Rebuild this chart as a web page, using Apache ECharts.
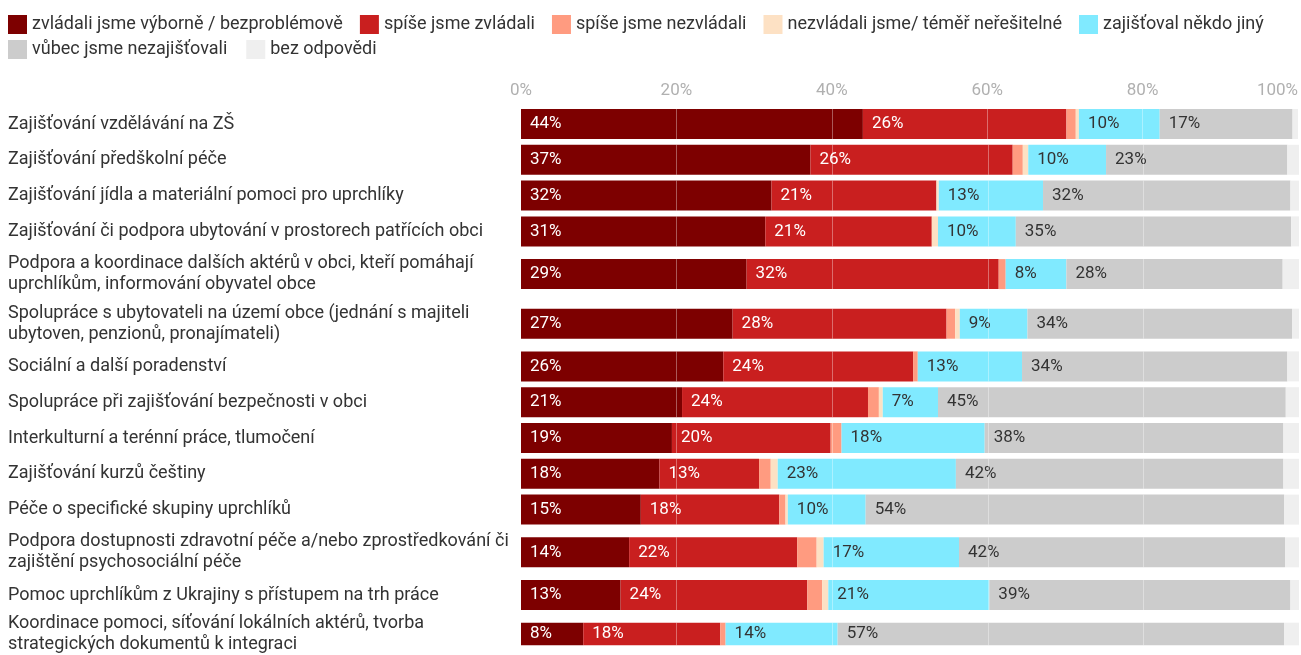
<!DOCTYPE html>
<html>
<head>
<meta charset="utf-8">
<script src="https://cdn.jsdelivr.net/npm/echarts@6/dist/echarts.min.js"></script>
<style>
  html, body { margin: 0; padding: 0; background: #fff; }
  #chart { width: 1301px; height: 655px; }
</style>
</head>
<body>
<div id="chart"></div>
<script>
// row labels (two-line labels get a taller row)
var categories = [
  'Zajišťování vzdělávání na ZŠ',
  'Zajišťování předškolní péče',
  'Zajišťování jídla a materiální pomoci pro uprchlíky',
  'Zajišťování či podpora ubytování v prostorech patřících obci',
  'Podpora a koordinace dalších aktérů v obci, kteří pomáhají\nuprchlíkům, informování obyvatel obce',
  'Spolupráce s ubytovateli na území obce (jednání s majiteli\nubytoven, penzionů, pronajímateli)',
  'Sociální a další poradenství',
  'Spolupráce při zajišťování bezpečnosti v obci',
  'Interkulturní a terénní práce, tlumočení',
  'Zajišťování kurzů češtiny',
  'Péče o specifické skupiny uprchlíků',
  'Podpora dostupnosti zdravotní péče a/nebo zprostředkování či\nzajištění psychosociální péče',
  'Pomoc uprchlíkům z Ukrajiny s přístupem na trh práce',
  'Koordinace pomoci, síťování lokálních aktérů, tvorba\nstrategických dokumentů k integraci'
];

var seriesNames = [
  'zvládali jsme výborně / bezproblémově',
  'spíše jsme zvládali',
  'spíše jsme nezvládali',
  'nezvládali jsme/ téměř neřešitelné',
  'zajišťoval někdo jiný',
  'vůbec jsme nezajišťovali',
  'bez odpovědi'
];

// values in %
var vyborne     = [44.0, 37.2, 32.2, 31.4, 29.0, 27.2, 26.0, 20.7, 19.4, 17.8, 15.4, 13.9, 12.8, 8.0];
var spiseZvl    = [26.2, 26.0, 21.2, 21.4, 32.4, 27.5, 24.4, 23.9, 20.4, 12.8, 17.8, 21.6, 24.0, 17.6];
var spiseNezvl  = [1.2, 1.3, 0, 0, 0.9, 1.1, 0.6, 1.4, 1.4, 1.5, 0.8, 2.5, 1.9, 0.7];
var nezvladali  = [0.4, 0.7, 0.3, 0.8, 0, 0.6, 0, 0.5, 0, 0.9, 0.3, 0.9, 0.8, 0];
var nekdoJiny   = [10.4, 10.0, 13.4, 10.0, 7.8, 8.7, 13.4, 7.1, 18.4, 22.9, 10.0, 17.4, 20.7, 14.4];
var vubec       = [17.1, 23.3, 31.8, 35.4, 27.8, 34.0, 34.1, 44.7, 38.4, 42.1, 53.8, 41.9, 38.7, 57.4];
var bezOdpovedi = [0.7, 1.5, 1.1, 1.0, 2.1, 0.9, 1.5, 1.7, 2.0, 2.0, 1.9, 1.8, 1.1, 1.9];

var xTicks = [0, 20, 40, 60, 80, 100];

var values = [vyborne, spiseZvl, spiseNezvl, nezvladali, nekdoJiny, vubec, bezOdpovedi];
var colors = ['#7d0000', '#c91f1f', '#ff9b80', '#fde1c4', '#80eaff', '#cccccc', '#efefef'];
var labelColors = ['#fff', '#fff', '#333', '#333', '#333', '#333', '#333'];

var font = 'Roboto, "Noto Sans", sans-serif';
var barH = 30;
var rowSingle = 35.8, rowDouble = 49.6;

var grids = [], xAxes = [], yAxes = [], series = [];
var y = 106.1;
for (var i = 0; i < categories.length; i++) {
  var h = categories[i].indexOf('\n') >= 0 ? rowDouble : rowSingle;
  grids.push({ left: 521, right: 2, top: y + (h - barH) / 2, height: barH, containLabel: false });
  y += h;
  xAxes.push({
    type: 'value', gridIndex: i, min: xTicks[0], max: xTicks[xTicks.length - 1],
    interval: xTicks[1] - xTicks[0], position: 'top', z: 5,
    axisLine: { show: false }, axisTick: { show: false },
    axisLabel: {
      show: i === 0, formatter: '{value}%', color: '#b0b0b0', fontSize: 17,
      fontFamily: font, margin: 10, alignMaxLabel: 'right'
    },
    splitLine: { show: true, showMinLine: false, showMaxLine: false,
      lineStyle: { color: 'rgba(255,255,255,0.35)', width: 1 } }
  });
  yAxes.push({
    type: 'category', gridIndex: i, data: [categories[i]],
    axisLine: { show: false }, axisTick: { show: false },
    axisLabel: { align: 'left', margin: 513, color: '#333', fontSize: 18,
      fontFamily: font, lineHeight: 21 }
  });
}

for (var s = 0; s < values.length; s++) {
  for (var r = 0; r < categories.length; r++) {
    series.push({
      type: 'bar', name: seriesNames[s], xAxisIndex: r, yAxisIndex: r,
      stack: 'row' + r, barWidth: '100%', data: [values[s][r]],
      itemStyle: { color: colors[s] },
      emphasis: { disabled: true },
      label: {
        show: true, position: 'insideLeft', distance: 9,
        color: labelColors[s], fontSize: 17, fontFamily: font,
        formatter: function (p) { return p.value >= 5 ? Math.round(p.value) + '%' : ''; }
      }
    });
  }
}

// legend in two lines, like the original
var legendBase = {
  left: 3, icon: 'rect', itemWidth: 19, itemHeight: 19,
  selectedMode: false,
  textStyle: { color: '#333', fontSize: 18, fontFamily: font }
};
var legends = [
  Object.assign({}, legendBase, { top: 10, itemGap: 17, data: seriesNames.slice(0, 5) }),
  Object.assign({}, legendBase, { top: 35, itemGap: 19, data: seriesNames.slice(5) })
];

var chart = echarts.init(document.getElementById('chart'));
chart.setOption({
  animation: false,
  legend: legends,
  grid: grids,
  xAxis: xAxes,
  yAxis: yAxes,
  series: series
});
</script>
</body>
</html>
